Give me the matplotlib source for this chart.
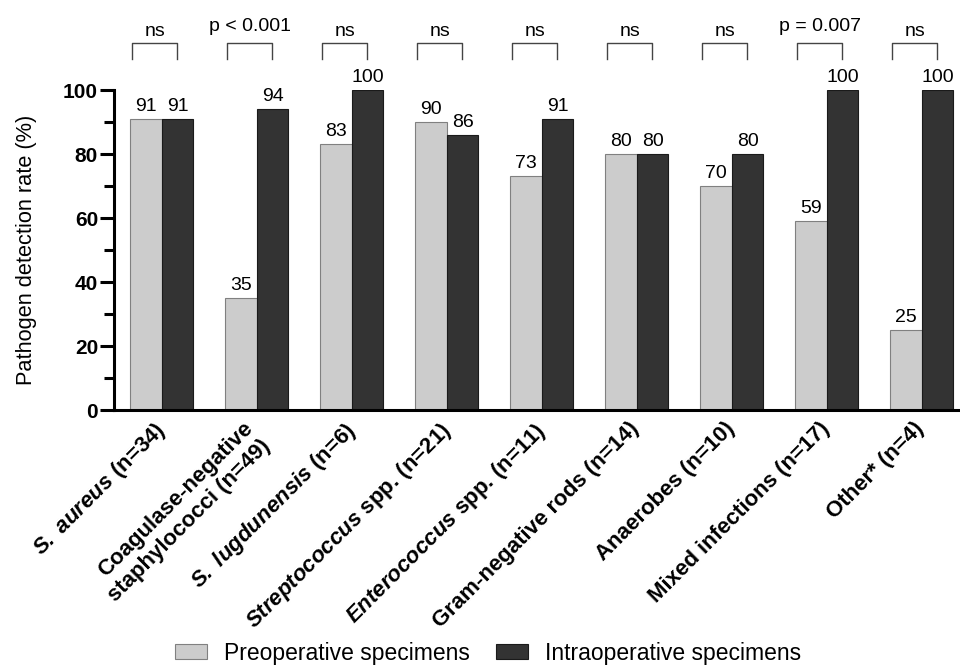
import numpy as np
import matplotlib
matplotlib.use("Agg")
import matplotlib.pyplot as plt
import matplotlib.transforms as mtransforms
from matplotlib.patches import Patch

plt.rcParams["font.family"] = ["Liberation Sans", "DejaVu Sans"]
plt.rcParams["mathtext.fontset"] = "custom"
plt.rcParams["mathtext.bfit"] = "Liberation Sans:italic:bold"
plt.rcParams["mathtext.it"] = "Liberation Sans:italic"
plt.rcParams["mathtext.rm"] = "Liberation Sans"
plt.rcParams["mathtext.bf"] = "Liberation Sans:bold"

# ---- data -------------------------------------------------------------
categories = [
    r"$\mathbfit{S.\ aureus}$ (n=34)",
    "Coagulase-negative\nstaphylococci (n=49)",
    r"$\mathbfit{S.\ lugdunensis}$ (n=6)",
    r"$\mathbfit{Streptococcus}$ spp. (n=21)",
    r"$\mathbfit{Enterococcus}$ spp. (n=11)",
    "Gram-negative rods (n=14)",
    "Anaerobes (n=10)",
    "Mixed infections (n=17)",
    "Other* (n=4)",
]
preoperative = [91, 35, 83, 90, 73, 80, 70, 59, 25]
intraoperative = [91, 94, 100, 86, 91, 80, 80, 100, 100]
significance = ["ns", "p < 0.001", "ns", "ns", "ns", "ns", "ns", "p = 0.007", "ns"]
series_names = ["Preoperative specimens", "Intraoperative specimens"]

light = "#cccccc"
dark = "#333333"

# ---- figure -----------------------------------------------------------
fig = plt.figure(figsize=(9.6, 6.68), dpi=100)
ax = fig.add_axes([0.1188, 0.3862, 0.8812, 0.479])

x = np.arange(len(categories))
w = 1.0 / 3.0
bars_pre = ax.bar(x - w / 2, preoperative, width=w, color=light,
                  edgecolor="#808080", linewidth=0.8, label=series_names[0])
bars_intra = ax.bar(x + w / 2, intraoperative, width=w, color=dark,
                    edgecolor="#1a1a1a", linewidth=0.8, label=series_names[1])

# value labels above each bar
for bars, vals in ((bars_pre, preoperative), (bars_intra, intraoperative)):
    for b, v in zip(bars, vals):
        ax.annotate(f"{v}", (b.get_x() + b.get_width() / 2, v),
                    xytext=(0, 6), textcoords="offset points",
                    ha="center", va="baseline", fontsize=14,
                    annotation_clip=False)

# significance brackets above each group
for i, s in enumerate(significance):
    xl, xr = i - 0.31, i + 0.16
    ax.plot([xl, xl, xr, xr], [109.7, 114.7, 114.7, 109.7],
            color="#444444", lw=1.0, clip_on=False)
    ty = 118.4 if s.startswith("p") else 116.9
    ax.text((xl + xr) / 2, ty, s, ha="center", va="baseline",
            fontsize=14, clip_on=False)

# axes styling
ax.set_xlim(-0.502, 8.403)
ax.set_ylim(0, 100)
for side in ("top", "right"):
    ax.spines[side].set_visible(False)
for side in ("left", "bottom"):
    ax.spines[side].set_linewidth(2.2)

ax.set_yticks(np.arange(0, 101, 20))
ax.set_yticks(np.arange(10, 100, 20), minor=True)
ax.tick_params(axis="y", which="major", length=10, width=2.2, pad=1.5,
               labelsize=15)
ax.tick_params(axis="y", which="minor", length=7, width=2.2)
for lbl in ax.get_yticklabels():
    lbl.set_fontweight("bold")

ax.set_xticks(x)
ax.tick_params(axis="x", which="major", length=0, pad=6)
ax.set_xticklabels(categories, rotation=45, ha="right", va="top",
                   rotation_mode="anchor", fontsize=16, fontweight="bold",
                   multialignment="right")
for i, lbl in enumerate(ax.get_xticklabels()):
    dx = -14 if "\n" in lbl.get_text() else -8
    shift = mtransforms.ScaledTranslation(dx / 100, 0, fig.dpi_scale_trans)
    lbl.set_transform(lbl.get_transform() + shift)

ax.set_ylabel("Pathogen detection rate (%)", fontsize=15.7)
ax.yaxis.set_label_coords(-0.091, 0.5)

# legend at the bottom
handles = [Patch(facecolor=light, edgecolor="#808080", linewidth=0.8),
           Patch(facecolor=dark, edgecolor="#1a1a1a", linewidth=0.8)]
fig.legend(handles, series_names, loc="lower center", ncol=2,
           bbox_to_anchor=(0.508, 0.005), frameon=False, fontsize=16.5,
           handlelength=1.4, handleheight=0.61, handletextpad=0.74,
           columnspacing=1.13, borderpad=0.0, borderaxespad=0.0)

fig.savefig("out.png", dpi=100)
